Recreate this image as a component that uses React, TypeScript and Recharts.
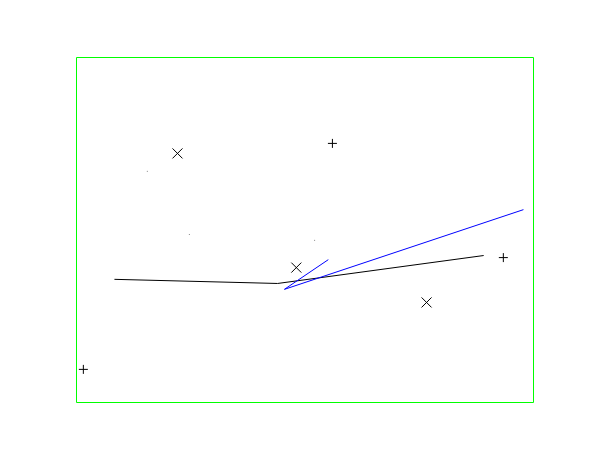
import React from "react";
import {
  ComposedChart,
  Line,
  Scatter,
  XAxis,
  YAxis,
  ReferenceArea,
} from "recharts";

const blackLine = [
  { x: 8.3, y: 35.7 },
  { x: 44.0, y: 34.5 },
  { x: 89.1, y: 42.6 },
];

const blueLine = [
  { x: 55.1, y: 41.4 },
  { x: 45.5, y: 32.8 },
  { x: 97.8, y: 55.9 },
];

const plusPoints = [
  { x: 1.5, y: 9.6 },
  { x: 56.0, y: 75.1 },
  { x: 93.4, y: 42.0 },
];

const crossPoints = [
  { x: 22.1, y: 72.2 },
  { x: 48.1, y: 39.1 },
  { x: 76.6, y: 29.0 },
];

const dotPoints = [
  { x: 15.5, y: 67.0 },
  { x: 24.7, y: 48.7 },
  { x: 52.1, y: 47.0 },
];

const PlusShape = (props: any) => {
  const { cx, cy } = props;
  const s = 4.5;
  return (
    <g>
      <line x1={cx - s} y1={cy} x2={cx + s} y2={cy} stroke="#000" strokeWidth={1} />
      <line x1={cx} y1={cy - s} x2={cx} y2={cy + s} stroke="#000" strokeWidth={1} />
    </g>
  );
};

const CrossShape = (props: any) => {
  const { cx, cy } = props;
  const s = 5;
  return (
    <g>
      <line x1={cx - s} y1={cy - s} x2={cx + s} y2={cy + s} stroke="#000" strokeWidth={1} />
      <line x1={cx - s} y1={cy + s} x2={cx + s} y2={cy - s} stroke="#000" strokeWidth={1} />
    </g>
  );
};

const DotShape = (props: any) => {
  const { cx, cy } = props;
  return <rect x={cx - 0.5} y={cy - 0.5} width={1} height={1} fill="#888" />;
};

export default function App() {
  return (
    <ComposedChart
      width={594}
      height={444}
      margin={{ top: 49.5, left: 68.5, right: 68.5, bottom: 49.5 }}
    >
      <XAxis type="number" dataKey="x" domain={[0, 100]} hide />
      <YAxis type="number" dataKey="y" domain={[0, 100]} hide />
      <ReferenceArea
        x1={0}
        x2={100}
        y1={0}
        y2={100}
        fill="none"
        stroke="#00ff00"
        strokeWidth={1}
        fillOpacity={0}
        strokeOpacity={1}
      />
      <Line
        data={blackLine}
        dataKey="y"
        type="linear"
        stroke="#000000"
        strokeWidth={1}
        dot={false}
        activeDot={false}
        isAnimationActive={false}
      />
      <Line
        data={blueLine}
        dataKey="y"
        type="linear"
        stroke="#0000ff"
        strokeWidth={1}
        dot={false}
        activeDot={false}
        isAnimationActive={false}
      />
      <Scatter data={plusPoints} dataKey="y" shape={PlusShape} isAnimationActive={false} />
      <Scatter data={crossPoints} dataKey="y" shape={CrossShape} isAnimationActive={false} />
      <Scatter data={dotPoints} dataKey="y" shape={DotShape} isAnimationActive={false} />
    </ComposedChart>
  );
}
